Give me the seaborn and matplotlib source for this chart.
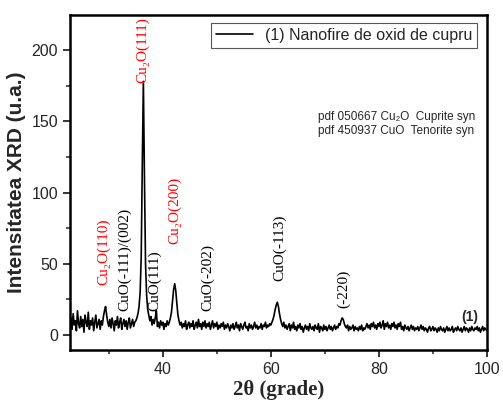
import numpy as np
import pandas as pd
import matplotlib
matplotlib.use("Agg")
import matplotlib.pyplot as plt
import seaborn as sns
from matplotlib.ticker import MultipleLocator

# 2theta grid of the scan (step 0.2 deg, 23 -> 100)
theta_start, theta_step = 23.0, 0.2

# intensity, one row per 5 degrees
intensity = [
    12, 4, 15, 7, 10, 3, 17, 8, 5, 13, 6, 11, 2, 14, 9, 6, 16, 4, 10, 7, 12, 3, 9, 14, 5,
    8, 11, 4, 10, 7, 13, 17, 20, 14, 9, 6, 11, 5, 12, 8, 3, 10, 7, 13, 5, 9, 12, 4, 8, 11,
    6, 10, 4, 9, 12, 5, 8, 11, 6, 9, 10, 12, 15, 20, 30, 55, 120, 178, 110, 50, 28, 18, 14, 10, 13,
    7, 11, 8, 12, 17, 6, 9, 5, 10, 7, 9, 4, 8, 6, 10, 7, 9, 12, 16, 24, 32, 36, 31, 22, 14,
    10, 7, 9, 5, 8, 6, 10, 4, 7, 9, 5, 8, 6, 10, 4, 7, 9, 5, 11, 6, 8, 4, 9, 6, 10,
    5, 8, 6, 9, 4, 7, 10, 5, 8, 6, 9, 4, 7, 5, 8, 6, 9, 4, 7, 5, 8, 6, 3, 7, 5,
    8, 4, 6, 9, 5, 7, 3, 8, 6, 4, 7, 9, 5, 6, 3, 8, 5, 7, 4, 6, 9, 5, 7, 4, 6,
    5, 8, 4, 7, 6, 9, 5, 7, 6, 8, 7, 9, 11, 14, 18, 21, 23, 20, 15, 11, 8, 6, 9, 5, 7,
    4, 6, 8, 3, 7, 5, 9, 4, 6, 3, 7, 5, 8, 4, 6, 2, 5, 7, 4, 6, 3, 8, 5, 4, 6,
    3, 7, 5, 4, 8, 2, 6, 5, 3, 7, 4, 6, 3, 5, 7, 4, 6, 3, 5, 7, 4, 6, 5, 8, 7,
    10, 12, 11, 8, 6, 5, 7, 3, 6, 4, 5, 7, 3, 6, 4, 5, 3, 6, 4, 7, 3, 5, 4, 6, 8,
    5, 7, 4, 8, 6, 9, 5, 7, 4, 8, 6, 9, 5, 7, 10, 4, 8, 6, 9, 5, 7, 4, 8, 6, 9,
    5, 7, 4, 8, 6, 9, 4, 6, 3, 7, 5, 4, 6, 3, 5, 7, 4, 6, 3, 5, 4, 6, 3, 5, 7,
    4, 6, 3, 5, 4, 2, 5, 6, 3, 4, 6, 3, 5, 4, 2, 5, 3, 6, 4, 3, 5, 2, 4, 6, 3,
    5, 3, 4, 6, 2, 4, 5, 3, 6, 4, 3, 5, 2, 4, 6, 3, 5, 4, 2, 5, 3, 6, 4, 3, 5,
    4, 6, 3, 5, 2, 4, 6, 3, 5, 4, 3,
]
two_theta = theta_start + theta_step * np.arange(len(intensity))

# peak labels: text, 2theta, y of label bottom, colour
peak_labels = ["Cu₂O(110)", "CuO(-111)/(002)", "Cu₂O(111)", "CuO(111)",
               "Cu₂O(200)", "CuO(-202)", "CuO(-113)", "(-220)"]
peak_x = [29.0, 33.0, 36.3, 38.5, 42.2, 48.3, 61.7, 73.4]
peak_y = [35, 17, 177, 17, 64, 17, 38, 19]
peak_colors = ["red", "black", "red", "black", "red", "black", "black", "black"]

df = pd.DataFrame({"2theta": two_theta, "I": intensity})

sns.set_style("ticks")
plt.rcParams["font.family"] = ["Liberation Sans", "DejaVu Sans"]

fig = plt.figure(figsize=(5.03, 4.07), dpi=100)
ax = fig.add_axes([0.139, 0.140, 0.829, 0.823])

sns.lineplot(data=df, x="2theta", y="I", color="black", linewidth=1.2,
             estimator=None, ax=ax, label="(1) Nanofire de oxid de cupru")

for lab, px, py, c in zip(peak_labels, peak_x, peak_y, peak_colors):
    ax.text(px, py, lab, rotation=90, ha="center", va="bottom", color=c,
            fontsize=11, family=["Liberation Serif", "DejaVu Serif"])

ax.text(96.9, 12.5, "(1)", fontsize=10, fontweight="bold", ha="center", va="center")
ax.text(0.595, 0.715, "pdf 050667 Cu₂O  Cuprite syn\npdf 450937 CuO  Tenorite syn",
        transform=ax.transAxes, fontsize=8.5, ha="left", va="top", linespacing=1.3)

ax.set_xlim(22.8, 100)
ax.set_ylim(-10.5, 224.5)
ax.xaxis.set_major_locator(MultipleLocator(20))
ax.xaxis.set_minor_locator(MultipleLocator(10))
ax.yaxis.set_major_locator(MultipleLocator(50))
ax.yaxis.set_minor_locator(MultipleLocator(25))
ax.tick_params(which="major", direction="out", length=5, width=1.3, labelsize=11.5)
ax.tick_params(which="minor", direction="out", length=3, width=1.1)

for s in ax.spines.values():
    s.set_visible(True)
    s.set_linewidth(1.8)
    s.set_color("black")

ax.set_xlabel("2θ (grade)", fontsize=15, fontweight="bold",
              family=["Liberation Serif", "DejaVu Serif"], labelpad=2)
ax.set_ylabel("Intensitatea XRD (u.a.)", fontsize=15, fontweight="bold", labelpad=4)

leg = ax.legend(loc="upper right", bbox_to_anchor=(0.985, 0.985), fontsize=11.5,
                fancybox=False, framealpha=1, handlelength=2.3, borderpad=0.3,
                borderaxespad=0.2)
leg.get_frame().set_edgecolor("#555555")
leg.get_frame().set_linewidth(0.8)

fig.savefig("out.png", dpi=100)
